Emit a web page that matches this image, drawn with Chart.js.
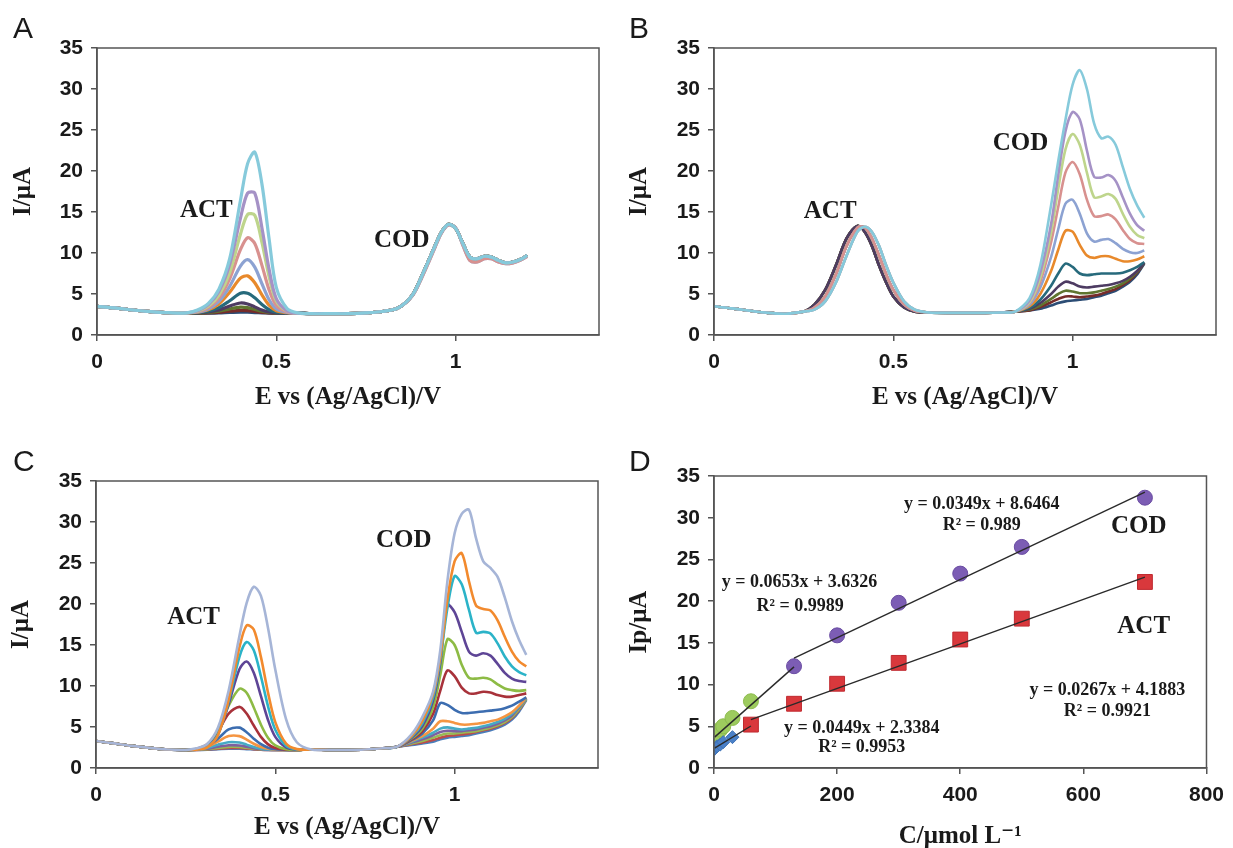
<!DOCTYPE html>
<html>
<head>
<meta charset="utf-8">
<script src="https://cdn.jsdelivr.net/npm/chart.js@4.4.1/dist/chart.umd.min.js"></script>
<style>
  html, body { margin: 0; padding: 0; background: #fff; }
  #fig { position: relative; width: 1233px; height: 848px; overflow: hidden; }
  canvas { position: absolute; }
</style>
</head>
<body>
<div id="fig">
  <canvas id="chartA" width="616" height="424" style="left:0;top:0"></canvas>
  <canvas id="chartB" width="617" height="424" style="left:616px;top:0"></canvas>
  <canvas id="chartC" width="616" height="424" style="left:0;top:424px"></canvas>
  <canvas id="chartD" width="617" height="424" style="left:616px;top:424px"></canvas>
</div>
<script>
// potential grid shared by panels A-C (V vs Ag/AgCl)
const potentialV = [0, 0.05, 0.1, 0.15, 0.2, 0.25,
  0.28, 0.31, 0.34, 0.37, 0.40, 0.42, 0.44, 0.46, 0.48, 0.50, 0.53, 0.56,
  0.6, 0.65, 0.7, 0.75, 0.8, 0.84,
  0.88, 0.91, 0.94, 0.96, 0.98, 1.0, 1.02, 1.04, 1.06, 1.08, 1.1, 1.12, 1.14, 1.16, 1.18, 1.2];

const ticksE = [0, 0.5, 1];
const ticksI = [0, 5, 10, 15, 20, 25, 30, 35];
const ticksConc = [0, 200, 400, 600, 800];

// --- panel A: ACT varies, COD constant ---
const leftA = [3.5, 3.3, 3.05, 2.85, 2.72, 2.7];
const midA = [2.6, 2.6, 2.6, 2.7, 2.9, 3.3];
const codA = [4.9, 7.6, 10.6, 12.5, 13.5, 13.0, 11.2, 9.5, 9.3, 9.6, 9.5, 9.1, 8.8, 8.9, 9.2, 9.7];
const codA2 = [4.8, 7.4, 10.4, 12.4, 13.4, 13.1, 11.0, 9.1, 8.9, 9.3, 9.3, 8.9, 8.7, 8.8, 9.1, 9.6];
const actA = [
  [2.66, 2.67, 2.7, 2.76, 2.8, 2.79, 2.74, 2.7, 2.67, 2.65, 2.65, 2.65],
  [2.66, 2.7, 2.77, 2.9, 3.0, 2.97, 2.87, 2.76, 2.69, 2.66, 2.65, 2.65],
  [2.68, 2.75, 2.9, 3.18, 3.4, 3.33, 3.12, 2.89, 2.74, 2.67, 2.65, 2.65],
  [2.7, 2.81, 3.06, 3.53, 3.9, 3.78, 3.43, 3.05, 2.8, 2.69, 2.66, 2.65],
  [2.73, 2.9, 3.34, 4.18, 5.1, 5.1, 4.54, 3.72, 3.08, 2.78, 2.68, 2.65],
  [2.78, 3.07, 3.79, 5.21, 6.93, 7.21, 6.37, 4.9, 3.63, 2.95, 2.71, 2.65],
  [2.81, 3.17, 4.09, 5.93, 8.41, 9.2, 8.28, 6.25, 4.29, 3.17, 2.75, 2.65],
  [2.86, 3.35, 4.52, 6.86, 10.4, 11.86, 11.16, 8.49, 5.5, 3.59, 2.81, 2.65],
  [2.9, 3.51, 4.87, 7.59, 12.28, 14.7, 14.6, 11.3, 7.1, 4.13, 2.9, 2.65],
  [2.95, 3.69, 5.32, 8.59, 14.23, 17.3, 17.3, 13.05, 8.0, 4.43, 2.95, 2.65],
  [3.04, 3.83, 5.6, 9.3, 16.4, 20.9, 22.3, 18.4, 11.7, 5.8, 3.24, 2.7]
];
const codAByCurve = [codA, codA, codA, codA, codA, codA, codA2, codA2, codA, codA, codA];
const colorsAB = ['#2C4D75', '#772C2A', '#5F7530', '#4D3B62', '#276A7C', '#E8892B',
  '#8CA2D2', '#D8918F', '#BED58C', '#A592C6', '#86CADB'];

// --- panel B: COD varies, ACT constant ---
const leftB = [3.5, 3.25, 2.95, 2.7, 2.6, 2.85];
const midB = [2.75, 2.7, 2.7, 2.7, 2.75, 2.85];
const actB40 = [3.7, 5.5, 8.5, 11.8, 13.3, 12.6, 10.9, 8.5, 6.4, 4.7, 3.35, 2.85];
const actB41 = [3.35, 4.7, 7.4, 10.9, 13.1, 13.1, 11.8, 9.7, 7.4, 5.5, 3.7, 2.95];
const actB42 = [3.1, 4.1, 6.4, 9.7, 12.6, 13.2, 12.6, 10.9, 8.5, 6.4, 4.1, 3.1];
const actB = [actB40, actB40, actB40, actB40, actB41, actB41, actB41, actB41, actB42, actB42, actB42];
const codB = [
  [3.0, 3.2, 3.6, 3.9, 4.1, 4.2, 4.3, 4.4, 4.6, 4.8, 5.1, 5.4, 5.9, 6.5, 7.4, 8.7],
  [3.0, 3.4, 4.0, 4.4, 4.7, 4.7, 4.6, 4.7, 4.8, 5.0, 5.3, 5.6, 6.1, 6.7, 7.6, 8.8],
  [3.1, 3.6, 4.4, 5.0, 5.4, 5.3, 5.1, 5.1, 5.2, 5.4, 5.6, 5.9, 6.3, 6.9, 7.7, 8.8],
  [3.2, 3.9, 5.0, 5.9, 6.5, 6.3, 5.9, 5.8, 5.9, 6.0, 6.1, 6.3, 6.6, 7.1, 7.8, 8.8],
  [3.3, 4.3, 6.0, 7.5, 8.7, 8.3, 7.5, 7.3, 7.4, 7.5, 7.5, 7.5, 7.6, 7.9, 8.3, 8.9],
  [3.5, 5.0, 7.8, 10.4, 12.7, 12.6, 11.0, 9.7, 9.4, 9.6, 9.6, 9.3, 9.0, 9.0, 9.2, 9.6],
  [3.7, 5.8, 9.5, 12.9, 16.0, 16.5, 14.8, 12.4, 11.4, 11.6, 11.7, 11.2, 10.5, 10.1, 10.0, 10.3],
  [3.9, 6.5, 11.3, 15.6, 19.8, 21.1, 19.6, 16.5, 14.5, 14.5, 14.7, 14.1, 12.8, 11.7, 11.2, 11.1],
  [4.0, 7.0, 12.5, 17.8, 22.6, 24.5, 23.2, 19.8, 16.8, 16.9, 17.2, 16.6, 14.8, 13.2, 12.2, 11.8],
  [4.2, 7.6, 13.5, 19.5, 24.8, 27.2, 26.3, 22.5, 19.3, 19.2, 19.5, 18.8, 16.8, 14.8, 13.4, 12.7],
  [4.5, 8.5, 15.8, 21.2, 26.2, 30.5, 32.3, 30.0, 25.8, 24.0, 24.2, 23.2, 20.5, 17.8, 15.8, 14.3]
];

// --- panel C: both vary ---
const leftC = [3.3, 3.0, 2.7, 2.45, 2.25, 2.2];
const midC = [2.25, 2.2, 2.2, 2.25, 2.4, 2.6];
const actC = [
  [2.2, 2.23, 2.29, 2.35, 2.34, 2.3, 2.26, 2.22, 2.2, 2.2, 2.2, 2.2],
  [2.21, 2.26, 2.36, 2.45, 2.44, 2.38, 2.3, 2.24, 2.21, 2.2, 2.2, 2.2],
  [2.22, 2.3, 2.45, 2.58, 2.56, 2.46, 2.34, 2.26, 2.22, 2.2, 2.2, 2.2],
  [2.23, 2.35, 2.6, 2.78, 2.75, 2.6, 2.42, 2.3, 2.24, 2.21, 2.2, 2.2],
  [2.25, 2.45, 2.84, 3.15, 3.1, 2.85, 2.55, 2.35, 2.26, 2.22, 2.2, 2.2],
  [2.28, 2.57, 3.21, 3.89, 3.89, 3.47, 2.96, 2.57, 2.34, 2.24, 2.2, 2.2],
  [2.29, 2.66, 3.58, 4.7, 4.92, 4.37, 3.58, 2.9, 2.48, 2.29, 2.21, 2.2],
  [2.33, 2.88, 4.45, 6.64, 7.46, 6.64, 5.18, 3.8, 2.88, 2.43, 2.23, 2.2],
  [2.3, 2.82, 4.55, 7.6, 9.66, 9.18, 7.38, 5.28, 3.66, 2.75, 2.28, 2.2],
  [2.25, 2.6, 4.12, 7.82, 12.05, 12.99, 11.62, 8.76, 5.83, 3.8, 2.51, 2.23],
  [2.24, 2.56, 4.06, 8.14, 13.55, 15.36, 14.36, 11.16, 7.48, 4.66, 2.71, 2.27],
  [2.23, 2.52, 4.0, 8.36, 14.72, 17.38, 16.88, 13.52, 9.13, 5.59, 2.97, 2.3],
  [2.4, 2.92, 4.9, 9.45, 16.1, 20.1, 22.1, 21.0, 17.0, 12.0, 5.95, 3.14]
];
const codC = [
  [2.8, 3.0, 3.2, 3.5, 3.7, 3.8, 3.9, 4.0, 4.2, 4.4, 4.6, 4.9, 5.3, 5.9, 6.9, 8.3],
  [2.9, 3.1, 3.4, 3.7, 3.9, 4.0, 4.1, 4.2, 4.4, 4.6, 4.8, 5.1, 5.5, 6.1, 7.1, 8.4],
  [3.0, 3.3, 3.7, 4.0, 4.2, 4.2, 4.3, 4.4, 4.5, 4.7, 4.9, 5.2, 5.6, 6.2, 7.2, 8.4],
  [3.1, 3.5, 4.0, 4.4, 4.55, 4.5, 4.5, 4.6, 4.7, 4.9, 5.1, 5.4, 5.8, 6.4, 7.4, 8.5],
  [3.2, 3.7, 4.3, 4.8, 4.95, 4.8, 4.7, 4.8, 4.9, 5.1, 5.3, 5.6, 6.0, 6.6, 7.5, 8.5],
  [3.3, 3.9, 4.8, 5.7, 5.7, 5.5, 5.3, 5.3, 5.4, 5.5, 5.7, 5.9, 6.3, 6.8, 7.6, 8.6],
  [3.4, 4.2, 5.8, 7.9, 7.7, 7.1, 6.7, 6.7, 6.8, 6.9, 7.0, 7.1, 7.3, 7.6, 8.1, 8.6],
  [3.5, 4.5, 6.6, 9.4, 11.9, 11.2, 9.8, 9.1, 9.1, 9.3, 9.2, 8.9, 8.7, 8.7, 8.9, 9.1],
  [3.6, 4.8, 7.4, 11.3, 15.7, 15.0, 12.6, 11.0, 10.9, 11.0, 10.8, 10.2, 9.7, 9.5, 9.4, 9.5],
  [3.7, 5.1, 8.2, 12.8, 19.9, 19.0, 16.6, 14.2, 13.7, 14.0, 13.7, 12.7, 11.6, 10.9, 10.6, 10.5],
  [3.8, 5.4, 8.6, 13.2, 19.5, 23.4, 22.4, 19.3, 16.5, 16.6, 16.4, 15.2, 13.6, 12.4, 11.7, 11.3],
  [3.9, 5.7, 9.0, 13.5, 20.5, 25.2, 26.2, 22.8, 19.8, 19.4, 19.2, 18.0, 16.0, 14.2, 13.0, 12.4],
  [4.1, 6.2, 9.3, 14.3, 22.8, 28.6, 31.0, 31.5, 28.0, 25.2, 24.4, 23.3, 20.8, 17.9, 15.6, 13.8]
];
const colorsC = ['#4A7EBB', '#BE4B48', '#98B954', '#7D60A0', '#46AAC5', '#F59542',
  '#3C6DB0', '#A8323A', '#8DBB45', '#5E4596', '#2BB3C8', '#F28A2E', '#A6B5D7'];

// --- panel D: calibration ---
const concCodLow = [1, 5, 10, 15, 30, 60];
const ipCodLow = [3.7, 4.1, 4.6, 5.0, 6.0, 8.0];
const concCodHigh = [130, 200, 300, 400, 500, 700];
const ipCodHigh = [12.2, 15.9, 19.8, 23.3, 26.5, 32.4];
const concActLow = [1, 5, 10, 15, 30];
const ipActLow = [2.3, 2.6, 2.8, 3.1, 3.7];
const concActHigh = [60, 130, 200, 300, 400, 500, 700];
const ipActHigh = [5.2, 7.7, 10.1, 12.6, 15.4, 17.9, 22.3];
const fitSlope = [0.0349, 0.0653, 0.0267, 0.0449];
const fitIntercept = [8.6464, 3.6326, 4.1883, 2.3384];
const fitFrom = [130, 1, 60, 1];
const fitTo = [700, 130, 700, 60];

const serif = "'Liberation Serif', 'DejaVu Serif', serif";
const sans = "'Liberation Sans', Arial, sans-serif";

function curve(left, act, mid, cod) {
  const ys = [...left, ...act, ...mid, ...cod];
  return potentialV.map((e, i) => ({ x: e, y: ys[i] }));
}

function lineSet(data, color, width) {
  return { data, borderColor: color, borderWidth: width, pointRadius: 0,
    tension: 0.3, fill: false };
}

// frame, panel letter and in-plot labels
const marksPlugin = {
  id: 'marks',
  afterDraw(chart, args, opts) {
    const { ctx, chartArea: a, scales } = chart;
    ctx.save();
    ctx.strokeStyle = '#555';
    ctx.lineWidth = 1.5;
    ctx.strokeRect(a.left, a.top, a.right - a.left, a.bottom - a.top);
    ctx.fillStyle = '#1a1a1a';
    ctx.font = `30px ${sans}`;
    ctx.textAlign = 'left';
    ctx.textBaseline = 'alphabetic';
    ctx.fillText(opts.letter, 13, opts.letterY);
    ctx.textAlign = 'center';
    ctx.textBaseline = 'middle';
    (opts.notes || []).forEach(n => {
      ctx.font = `bold ${n.size}px ${serif}`;
      ctx.fillText(n.text, scales.x.getPixelForValue(n.x), scales.y.getPixelForValue(n.y));
    });
    ctx.restore();
  }
};

function makeOptions(box, xMax, xTicks, xTitle, yTitle, letterY, notes) {
  return {
    responsive: false,
    animation: false,
    layout: { padding: { left: 0, top: box.top, right: box.w - box.right, bottom: 0 } },
    plugins: {
      legend: { display: false },
      tooltip: { enabled: false },
      marks: { letter: box.letter, letterY, notes }
    },
    scales: {
      x: {
        type: 'linear', min: 0, max: xMax,
        afterBuildTicks: s => { s.ticks = xTicks.map(v => ({ value: v })); },
        afterFit: s => { s.height = 424 - box.bottom; },
        grid: { drawOnChartArea: false, drawTicks: true, tickLength: 6, color: '#555', lineWidth: 1.5 },
        border: { color: '#555', width: 1.5 },
        ticks: { color: '#1a1a1a', padding: 9, maxRotation: 0, autoSkip: false,
          font: { family: sans, size: 21, weight: 'bold' }, callback: v => String(v) },
        title: { display: true, text: xTitle, color: '#1a1a1a',
          font: { family: serif, size: 25, weight: 'bold' }, padding: { top: 0, bottom: box.xPad } }
      },
      y: {
        type: 'linear', min: 0, max: 35,
        afterBuildTicks: s => { s.ticks = ticksI.map(v => ({ value: v })); },
        afterFit: s => { s.width = box.left; },
        grid: { drawOnChartArea: false, drawTicks: true, tickLength: 6, color: '#555', lineWidth: 1.5 },
        border: { color: '#555', width: 1.5 },
        ticks: { color: '#1a1a1a', padding: 8,
          font: { family: sans, size: 21, weight: 'bold' }, callback: v => String(v) },
        title: { display: true, text: yTitle, color: '#1a1a1a',
          font: { family: serif, size: 25, weight: 'bold' }, padding: { top: box.yPad, bottom: 0 } }
      }
    }
  };
}

// panel A
new Chart(document.getElementById('chartA'), {
  type: 'line',
  data: { datasets: actA.map((act, i) => lineSet(curve(leftA, act, midA, codAByCurve[i]), colorsAB[i], 3.2)).reverse() },
  options: makeOptions({ letter: 'A', w: 616, left: 97, right: 599, top: 48, bottom: 335, xPad: 11, yPad: 9 },
    1.4, ticksE, 'E vs (Ag/AgCl)/V', 'I/μA', 38, [
      { text: 'ACT', x: 0.305, y: 15.2, size: 25 },
      { text: 'COD', x: 0.85, y: 11.5, size: 25 }
    ]),
  plugins: [marksPlugin]
});

// panel B
new Chart(document.getElementById('chartB'), {
  type: 'line',
  data: { datasets: codB.map((cod, i) => lineSet(curve(leftB, actB[i], midB, cod), colorsAB[i], 2.6)).reverse() },
  options: makeOptions({ letter: 'B', w: 617, left: 98, right: 600, top: 48, bottom: 335, xPad: 11, yPad: 9 },
    1.4, ticksE, 'E vs (Ag/AgCl)/V', 'I/μA', 38, [
      { text: 'ACT', x: 0.324, y: 15.1, size: 25 },
      { text: 'COD', x: 0.855, y: 23.3, size: 25 }
    ]),
  plugins: [marksPlugin]
});

// panel C
new Chart(document.getElementById('chartC'), {
  type: 'line',
  data: { datasets: actC.map((act, i) => lineSet(curve(leftC, act, midC, codC[i]), colorsC[i], 2.6)).reverse() },
  options: makeOptions({ letter: 'C', w: 616, left: 96, right: 598, top: 57, bottom: 344, xPad: 5, yPad: 7 },
    1.4, ticksE, 'E vs (Ag/AgCl)/V', 'I/μA', 47, [
      { text: 'ACT', x: 0.272, y: 18.4, size: 25 },
      { text: 'COD', x: 0.858, y: 27.7, size: 25 }
    ]),
  plugins: [marksPlugin]
});

// panel D
const pts = (xs, ys) => xs.map((x, i) => ({ x, y: ys[i] }));
const fitSets = fitSlope.map((m, i) => ({
  type: 'line',
  data: [fitFrom[i], fitTo[i]].map(x => ({ x, y: m * x + fitIntercept[i] })),
  borderColor: '#2a2a2a', borderWidth: 1.4, pointRadius: 0, fill: false
}));
new Chart(document.getElementById('chartD'), {
  type: 'scatter',
  data: {
    datasets: [
      ...fitSets,
      { data: pts(concActLow, ipActLow), pointStyle: 'rectRot', pointRadius: 6.5,
        backgroundColor: '#4A80C8', borderColor: '#3F72B5', borderWidth: 1 },
      { data: pts(concCodLow, ipCodLow), pointStyle: 'circle', pointRadius: 7.5,
        backgroundColor: '#9DCB5E', borderColor: '#8DBB4E', borderWidth: 1 },
      { data: pts(concActHigh, ipActHigh), pointStyle: 'rect', pointRadius: 10.5,
        backgroundColor: '#D9383C', borderColor: '#C02A30', borderWidth: 1 },
      { data: pts(concCodHigh, ipCodHigh), pointStyle: 'circle', pointRadius: 7.5,
        backgroundColor: '#7C5DB4', borderColor: '#6A4CA2', borderWidth: 1 }
    ]
  },
  options: makeOptions({ letter: 'D', w: 617, left: 98, right: 600, top: 52, bottom: 344, xPad: -4, yPad: 9 },
    800, ticksConc, 'C/μmol L⁻¹', 'Ip/μA', 47, [
      { text: 'y = 0.0349x + 8.6464', x: 435, y: 31.6, size: 18 },
      { text: 'R² = 0.989', x: 435, y: 29.1, size: 18 },
      { text: 'COD', x: 690, y: 28.9, size: 25 },
      { text: 'y = 0.0653x + 3.6326', x: 139, y: 22.3, size: 18 },
      { text: 'R² = 0.9989', x: 140, y: 19.4, size: 18 },
      { text: 'ACT', x: 698, y: 16.9, size: 25 },
      { text: 'y = 0.0267x + 4.1883', x: 639, y: 9.35, size: 18 },
      { text: 'R² = 0.9921', x: 639, y: 6.75, size: 18 },
      { text: 'y = 0.0449x + 2.3384', x: 240, y: 4.8, size: 18 },
      { text: 'R² = 0.9953', x: 240, y: 2.45, size: 18 }
    ]),
  plugins: [marksPlugin]
});
</script>
</body>
</html>
